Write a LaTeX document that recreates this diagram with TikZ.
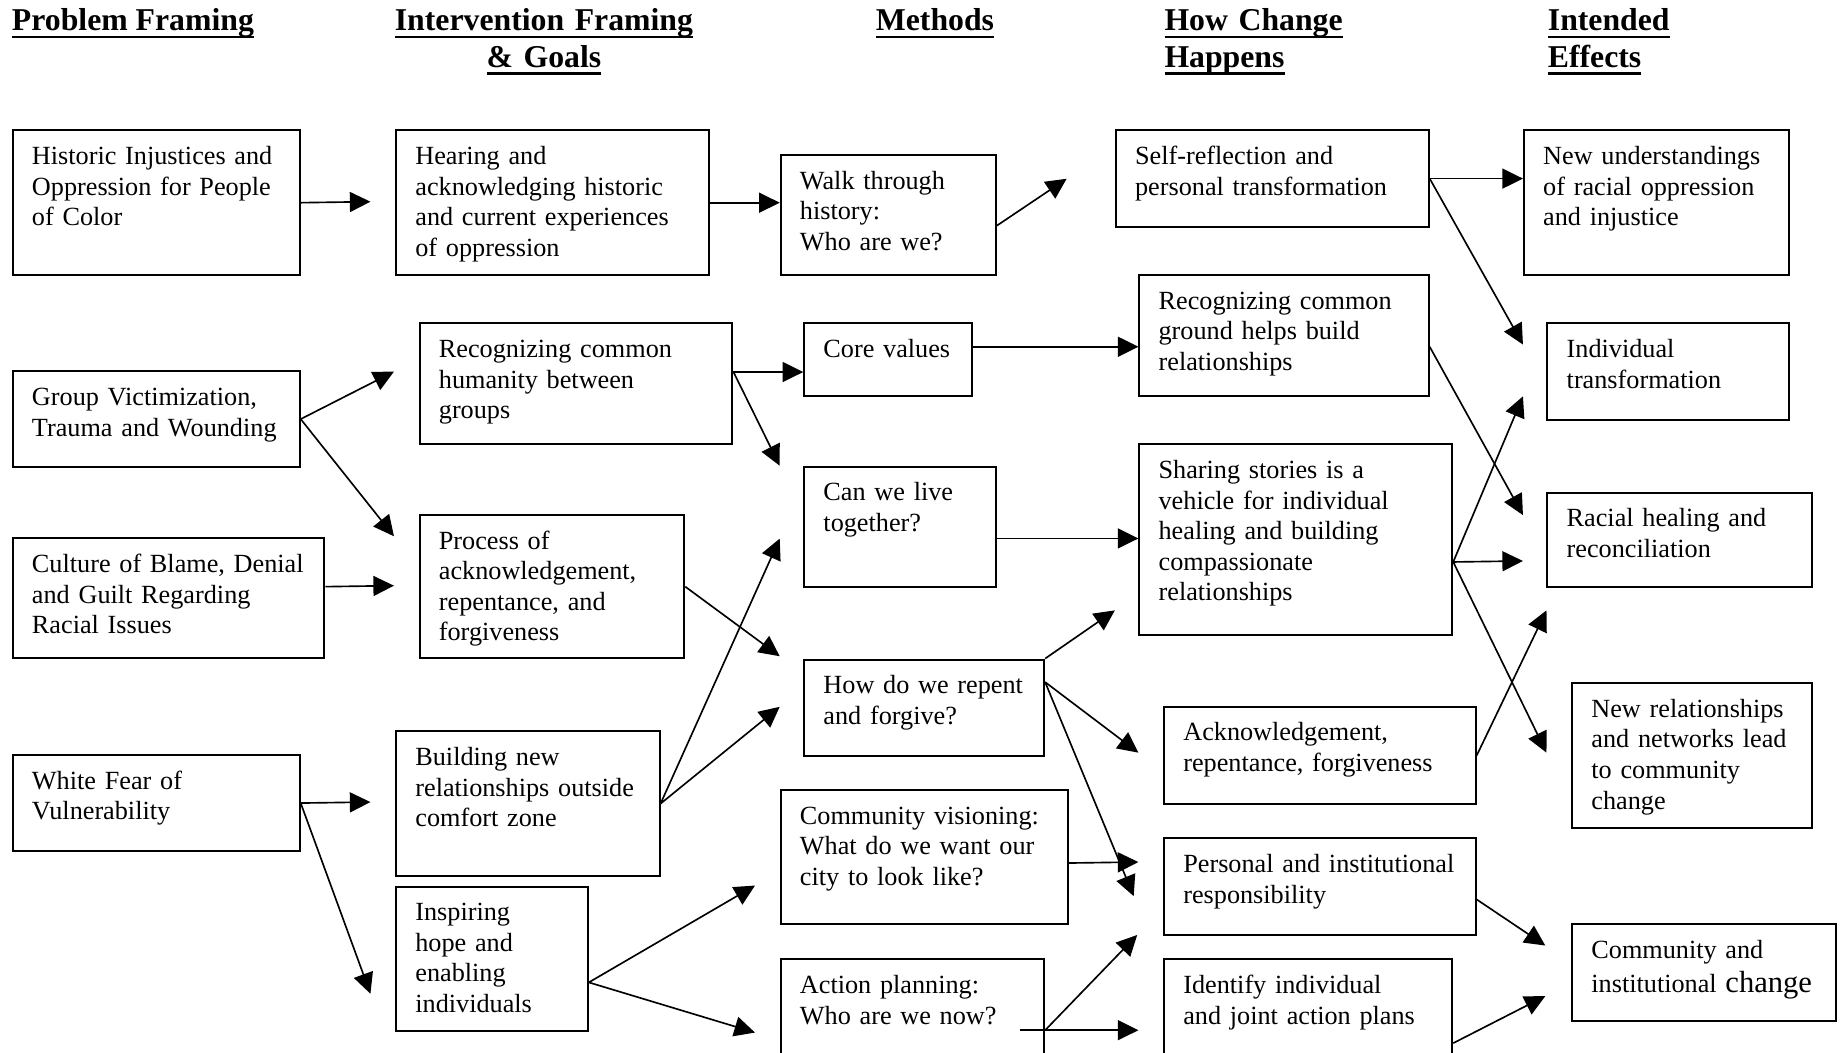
\documentclass[tikz,border=0pt]{standalone}
\usepackage{fontspec}
\setmainfont{Liberation Serif}
\usetikzlibrary{arrows.meta}
\newsavebox{\ulheadbox}
\newcommand{\ulhead}[1]{\leavevmode\sbox{\ulheadbox}{#1}\rlap{\rule[-6.6pt]{\wd\ulheadbox}{2.2pt}}\usebox{\ulheadbox}}
\newcommand{\boxfont}{\fontsize{22.3}{26}\selectfont}
\newcommand{\headfont}{\fontsize{27}{31}\selectfont\bfseries}

\tikzset{
  stage/.style={draw, line width=1.7pt, anchor=north west, inner sep=0pt},
  words/.style={anchor=base west, xshift=17pt, yshift=-30pt, text width=260pt, align=left, inner sep=0pt, font=\boxfont},
  heading/.style={inner sep=0pt, font=\headfont},
  flow/.style={line width=1.4pt, -{Triangle[length=17.5pt,width=17pt]}},
}

\begin{document}
\begin{tikzpicture}[x=1pt,y=-1pt]
			\useasboundingbox (0,0) rectangle (1568,894.6);
			% column headings
			\node[heading, anchor=base west] (probT) at (10,26) {\ulhead{Problem Framing}};
			\node[heading, anchor=base, text width=300pt, align=center] (interT) at (462.5,26) {\ulhead{Intervention Framing}\\\ulhead{\& Goals}};
			\node[heading, anchor=base] (methT) at (795,26) {\ulhead{Methods}};
			\node[heading, anchor=base west, text width=200pt, align=left] (howT) at (990,26) {\ulhead{How Change}\\\ulhead{Happens}};
			\node[heading, anchor=base west, text width=200pt, align=left] (effT) at (1316,26) {\ulhead{Intended}\\\ulhead{Effects}};
			% problem framing
			\node[stage, minimum width=244pt, minimum height=123pt, label={[words]north west:{Historic Injustices and\\Oppression for People\\of Color}}] (hist) at (10,110) {};
			\node[stage, minimum width=244pt, minimum height=81pt, label={[words]north west:{Group Victimization,\\Trauma and Wounding}}] (victim) at (10,315) {};
			\node[stage, minimum width=265pt, minimum height=102pt, label={[words]north west:{Culture of Blame, Denial\\and Guilt Regarding\\Racial Issues}}] (blame) at (10,457) {};
			\node[stage, minimum width=244pt, minimum height=82pt, label={[words]north west:{White Fear of\\Vulnerability}}] (fear) at (10,641) {};
			% intervention framing
			\node[stage, minimum width=266pt, minimum height=123pt, label={[words]north west:{Hearing and\\acknowledging historic\\and current experiences\\of oppression}}] (hear) at (336,110) {};
			\node[stage, minimum width=266pt, minimum height=103pt, label={[words]north west:{Recognizing common\\humanity between\\groups}}] (human) at (356,274) {};
			\node[stage, minimum width=225pt, minimum height=122pt, label={[words]north west:{Process of\\acknowledgement,\\repentance, and\\forgiveness}}] (repent) at (356,437) {};
			\node[stage, minimum width=224pt, minimum height=123pt, label={[words]north west:{Building new\\relationships outside\\comfort zone}}] (build) at (336,621) {};
			\node[stage, minimum width=163pt, minimum height=123pt, label={[words]north west:{Inspiring\\hope and\\enabling\\individuals}}] (inspire) at (336,753) {};
			% methods
			\node[stage, minimum width=183pt, minimum height=102pt, label={[words]north west:{Walk through\\history:\\Who are we?}}] (walk) at (663,131) {};
			\node[stage, minimum width=143pt, minimum height=62pt, label={[words]north west:{Core values}}] (core) at (683,274) {};
			\node[stage, minimum width=163pt, minimum height=102pt, label={[words]north west:{Can we live\\together?}}] (live) at (683,396) {};
			\node[stage, minimum width=204pt, minimum height=82pt, label={[words]north west:{How do we repent\\and forgive?}}] (forgive) at (683,560) {};
			\node[stage, minimum width=244pt, minimum height=114pt, label={[words]north west:{Community visioning:\\What do we want our\\city to look like?}}] (vision) at (663,671) {};
			\node[stage, minimum width=224pt, minimum height=100pt, label={[words]north west:{Action planning:\\Who are we now?}}] (plan) at (663,815) {};
			% how change happens
			\node[stage, minimum width=266pt, minimum height=82pt, label={[words]north west:{Self-reflection and\\personal transformation}}] (selfref) at (948,110) {};
			\node[stage, minimum width=246pt, minimum height=103pt, label={[words]north west:{Recognizing common\\ground helps build\\relationships}}] (ground) at (968,233) {};
			\node[stage, minimum width=266pt, minimum height=162pt, label={[words]north west:{Sharing stories is a\\vehicle for individual\\healing and building\\compassionate\\relationships}}] (stories) at (968,377) {};
			\node[stage, minimum width=265pt, minimum height=83pt, label={[words]north west:{Acknowledgement,\\repentance, forgiveness}}] (ack) at (989,600) {};
			\node[stage, minimum width=265pt, minimum height=82pt, label={[words]north west:{Personal and institutional\\responsibility}}] (resp) at (989,712) {};
			\node[stage, minimum width=245pt, minimum height=100pt, label={[words]north west:{Identify individual\\and joint action plans}}] (ident) at (989,815) {};
			% intended effects
			\node[stage, minimum width=225pt, minimum height=123pt, label={[words]north west:{New understandings\\of racial oppression\\and injustice}}] (underst) at (1295,110) {};
			\node[stage, minimum width=205pt, minimum height=82pt, label={[words]north west:{Individual\\transformation}}] (indiv) at (1315,274) {};
			\node[stage, minimum width=225pt, minimum height=80pt, label={[words]north west:{Racial healing and\\reconciliation}}] (heal) at (1315,418) {};
			\node[stage, minimum width=204pt, minimum height=123pt, label={[words]north west:{New relationships\\and networks lead\\to community\\change}}] (netw) at (1336,580) {};
			\node[stage, minimum width=224pt, minimum height=82pt, label={[words]north west:{Community and\\[3pt]institutional {\fontsize{26}{26}\selectfont change}}}] (commch) at (1336,785) {};
			% arrow tips in the gaps
			\coordinate (tip_hear) at (315,171.5);
			\coordinate (tip_self) at (907,152);
			\coordinate (tip_indiv_a) at (1295,293);
			\coordinate (tip_human) at (335,316);
			\coordinate (tip_repent_a) at (335,456);
			\coordinate (tip_live_a) at (663,396);
			\coordinate (tip_heal_a) at (1295,438);
			\coordinate (tip_repent_b) at (335,498);
			\coordinate (tip_forgive_a) at (663,558);
			\coordinate (tip_indiv_b) at (1295,337);
			\coordinate (tip_heal_b) at (1295,477);
			\coordinate (tip_netw) at (1315,640);
			\coordinate (tip_live_b) at (663,458);
			\coordinate (tip_forgive_b) at (663,601);
			\coordinate (tip_stories) at (948,519);
			\coordinate (tip_ack) at (968,640);
			\coordinate (tip_resp_a) at (964,762);
			\coordinate (tip_heal_c) at (1315,519);
			\coordinate (tip_build) at (315,682);
			\coordinate (tip_inspire) at (315,845);
			\coordinate (tip_vision) at (642,753);
			\coordinate (tip_plan) at (642,878);
			\coordinate (tip_resp_b) at (968,733);
			\coordinate (tip_ident) at (968,876);
			\coordinate (tip_resp_c) at (967,795);
			\coordinate (tip_comm_a) at (1314,804);
			\coordinate (tip_comm_b) at (1314,847);
			% fan-out points on the box edges
			\coordinate (human_out) at ([yshift=10pt]human.east);
			\coordinate (core_out) at ([yshift=11pt]core.east);
			\coordinate (live_out) at ([yshift=-10pt]live.east);
			\coordinate (stories_out) at ([yshift=-19pt]stories.east);
			\coordinate (forgive_out) at ([yshift=-20pt]forgive.north east);
			\coordinate (inspire_out) at ([yshift=-20pt]inspire.east);
			\coordinate (plan_out) at ([yshift=-61pt]plan.north east);
			% connectors
			\draw[flow] (hist.east) -- (tip_hear);
			\draw[flow] (hear.east) -- (walk.west |- hear.east);
			\draw[flow] ([yshift=-9pt]walk.east) -- (tip_self);
			\draw[flow] (selfref.east) -- (underst.west |- selfref.east);
			\draw[flow] (selfref.east) -- (tip_indiv_a);
			\draw[flow] (victim.east) -- (tip_human);
			\draw[flow] (victim.east) -- (tip_repent_a);
			\draw[flow] (human_out) -- (core.west |- human_out);
			\draw[flow] (human_out) -- (tip_live_a);
			\draw[flow] (core_out) -- (ground.west |- core_out);
			\draw[flow] ([yshift=-9.5pt]ground.east) -- (tip_heal_a);
			\draw[flow] (blame.east |- repent.west) -- (tip_repent_b);
			\draw[flow] (repent.east) -- (tip_forgive_a);
			\draw[flow] (live_out) -- (stories.west |- live_out);
			\draw[flow] (stories_out) -- (tip_indiv_b);
			\draw[flow] (stories_out) -- (tip_heal_b);
			\draw[flow] (stories_out) -- (tip_netw);
			\draw[flow] (build.east) -- (tip_live_b);
			\draw[flow] (build.east) -- (tip_forgive_b);
			\draw[flow] (forgive.north east) -- (tip_stories);
			\draw[flow] (forgive_out) -- (tip_ack);
			\draw[flow] (forgive_out) -- (tip_resp_a);
			\draw[flow] (ack.east) -- (tip_heal_c);
			\draw[flow] (fear.east) -- (tip_build);
			\draw[flow] (fear.east) -- (tip_inspire);
			\draw[flow] (inspire_out) -- (tip_vision);
			\draw[flow] (inspire_out) -- (tip_plan);
			\draw[flow] ([yshift=-5pt]vision.east) -- (tip_resp_b);
			\draw[flow] ([xshift=-21pt]plan_out) -- (tip_ident);
			\draw[flow] (plan_out) -- (tip_resp_c);
			\draw[flow] ([yshift=-11pt]resp.east) -- (tip_comm_a);
			\draw[flow] ([yshift=-72pt]ident.north east) -- (tip_comm_b);
		\end{tikzpicture}
\end{document}
